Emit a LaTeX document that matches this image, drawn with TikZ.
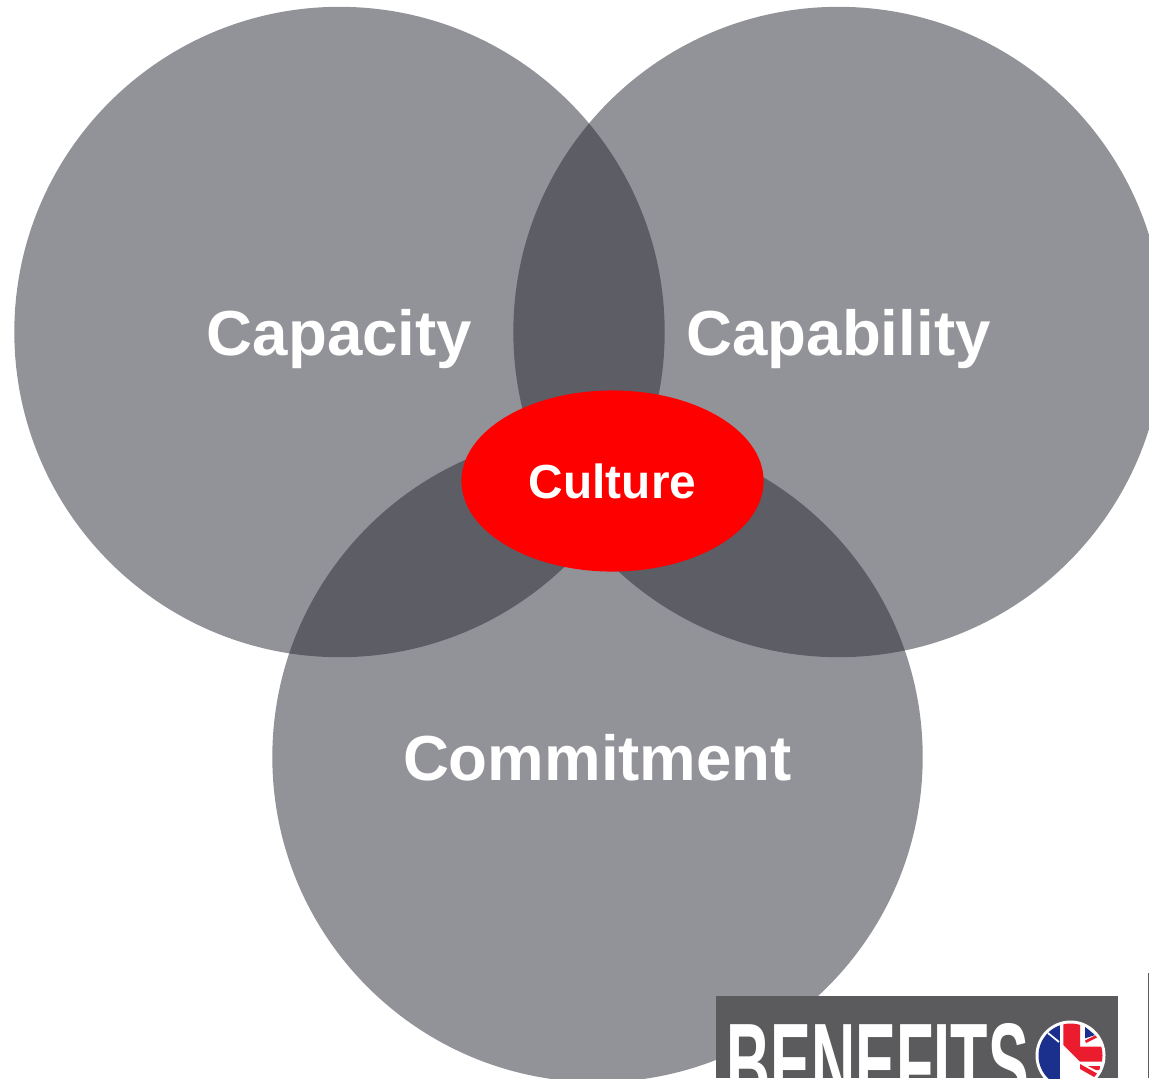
\documentclass[tikz,border=0pt]{standalone}
\usepackage{fontspec}
\setmainfont{Liberation Sans}
\usetikzlibrary{shapes.geometric, positioning}
\definecolor{ringgrey}{HTML}{2A2A36}
\definecolor{logogrey}{HTML}{5B5B5D}
\definecolor{flagblue}{HTML}{1B2F8C}
\definecolor{flagred}{HTML}{EA1C2D}
\tikzset{
    venn/.style={circle, fill=ringgrey, fill opacity=0.51, text opacity=1, text=white, text depth=0pt, minimum size=6.5cm, inner sep=0pt, font=\fontsize{18.1}{20}\bfseries},
    core/.style={ellipse, fill=red, text=white, minimum width=3.02cm, minimum height=1.81cm, inner sep=0pt, font=\fontsize{13.6}{16}\bfseries},
    logoword/.style={text=white, inner sep=0pt, xscale=0.527, transform shape, font=\fontsize{33}{36}\bfseries}
}
\begin{document}
\begin{tikzpicture}[x=0.01cm, y=-0.01cm]
    \useasboundingbox (0,0) rectangle (1149,1078);
    \clip (0,0) rectangle (1149,1078);
    % The three rings
    \node[venn] (capacity) at (339.5,332) {Capacity};
    \node[venn] (capability) at (838.5,332) {Capability};
    \node[venn] (commitment) at (597.5,757) {Commitment};
    \node[core] (culture) at (612.5,481) {Culture};

    % Logo strip
    \fill[logogrey] (716,996) rectangle (1118,1078);
    \node[logoword, anchor=base west] (benefits) at (726,1104) {BENEFITS};
    \fill[white] (1070.5,1055.5) circle (35);
    \begin{scope}
        \clip (1070.5,1055.5) circle (32);
        \fill[flagblue] (1030,1015) rectangle (1060,1095);
        \fill[white] (1060,1015) -- (1063.3,1015) -- (1063.3,1045) -- (1080,1063.3) -- (1080,1095) -- (1060,1095) -- cycle;
        \fill[flagred] (1063.3,1015) -- (1080,1015) -- (1080,1046.7) -- (1110,1046.7) -- (1110,1061.7) -- (1080,1061.7) -- (1063.3,1045) -- cycle;
        \fill[flagblue] (1085,1026.7) -- (1095,1035) -- (1085,1038.3) -- cycle;
        \fill[flagred] (1085,1040.5) -- (1097,1034.5) -- (1098,1037) -- (1086,1043) -- cycle;
        \fill[flagred] (1080,1064) -- (1098,1074) -- (1096,1078) -- (1080,1069) -- cycle;
        \fill[flagred] (1088,1066) -- (1100,1066) -- (1100,1070) -- (1096,1070) -- cycle;
        \draw[white, line width=0.5pt] (1048,1033) -- (1059,1042);
    \end{scope}
    \fill[logogrey] (1147.5,973) rectangle (1149,1078);
\end{tikzpicture}
\end{document}
